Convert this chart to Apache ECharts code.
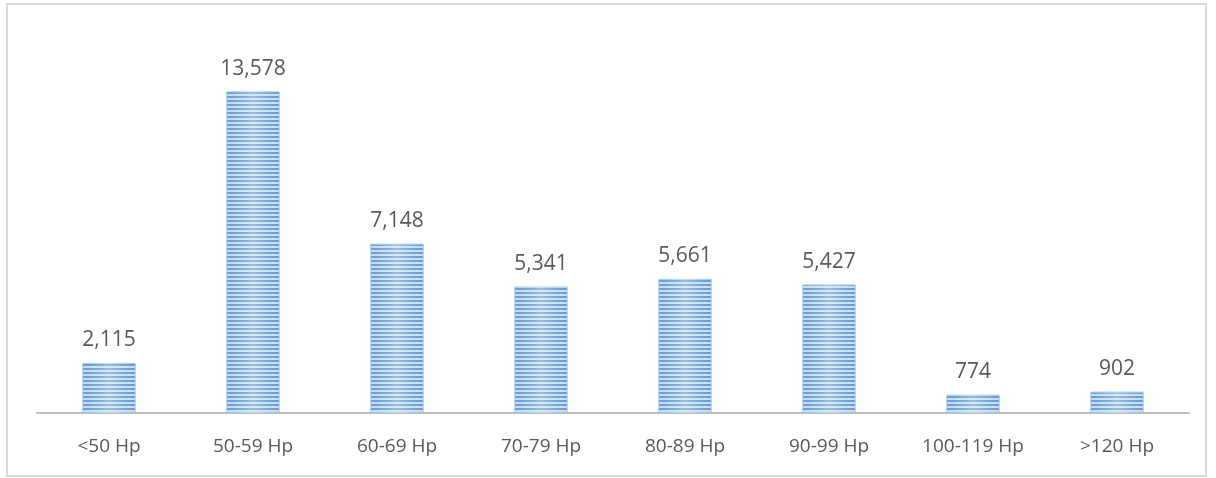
<!DOCTYPE html>
<html>
<head>
<meta charset="utf-8">
<script src="https://cdn.jsdelivr.net/npm/echarts@6/dist/echarts.min.js"></script>
<style>
  html, body { margin: 0; padding: 0; background: #fff; }
  #chart { width: 1216px; height: 478px; }
</style>
</head>
<body>
<div id="chart"></div>
<script>
var categories = ['<50 Hp', '50-59 Hp', '60-69 Hp', '70-79 Hp', '80-89 Hp', '90-99 Hp', '100-119 Hp', '>120 Hp'];
var counts = [2115, 13578, 7148, 5341, 5661, 5427, 774, 902];

// 横条纹填充
function stripePattern() {
    var c = document.createElement('canvas');
    c.width = 4;
    c.height = 4;
    var ctx = c.getContext('2d');
    ctx.fillStyle = '#c6dcf2';
    ctx.fillRect(0, 0, 4, 4);
    ctx.fillStyle = '#5b9bd5';
    ctx.fillRect(0, 0, 4, 2);
    return c;
}

var myChart = echarts.init(document.getElementById('chart'));
var option = {
    animation: false,
    graphic: [{
        type: 'rect',
        shape: { x: 7, y: 4, width: 1199, height: 472 },
        style: { fill: 'none', stroke: '#d9d9d9', lineWidth: 2 },
        silent: true
    }],
    grid: { left: 37, right: 27, top: 34, bottom: 65 },
    xAxis: {
        type: 'category',
        data: categories,
        axisLine: { lineStyle: { color: '#bfbfbf', width: 2 } },
        axisTick: { show: false },
        axisLabel: { color: '#595959', fontSize: 19, fontFamily: 'Open Sans', margin: 24 }
    },
    yAxis: {
        type: 'value',
        min: 0,
        max: 16000,
        show: false,
        splitLine: { show: false }
    },
    series: [{
        type: 'bar',
        data: counts,
        barWidth: '37%',
        itemStyle: {
            color: { image: stripePattern(), repeat: 'repeat' },
            borderColor: '#9dc3e6',
            borderWidth: 1
        },
        label: {
            show: true,
            position: 'top',
            distance: 12,
            color: '#595959',
            fontSize: 21,
            fontFamily: 'Open Sans',
            formatter: function (p) {
                return p.value.toLocaleString('en-US');
            }
        }
    }, {
        // 中间提亮的渐变层
        type: 'bar',
        data: counts,
        barWidth: '37%',
        barGap: '-100%',
        silent: true,
        itemStyle: {
            color: {
                type: 'linear', x: 0, y: 0, x2: 1, y2: 0,
                colorStops: [
                    { offset: 0, color: 'rgba(255,255,255,0)' },
                    { offset: 0.5, color: 'rgba(255,255,255,0.35)' },
                    { offset: 1, color: 'rgba(255,255,255,0)' }
                ]
            }
        }
    }]
};
myChart.setOption(option);
</script>
</body>
</html>
